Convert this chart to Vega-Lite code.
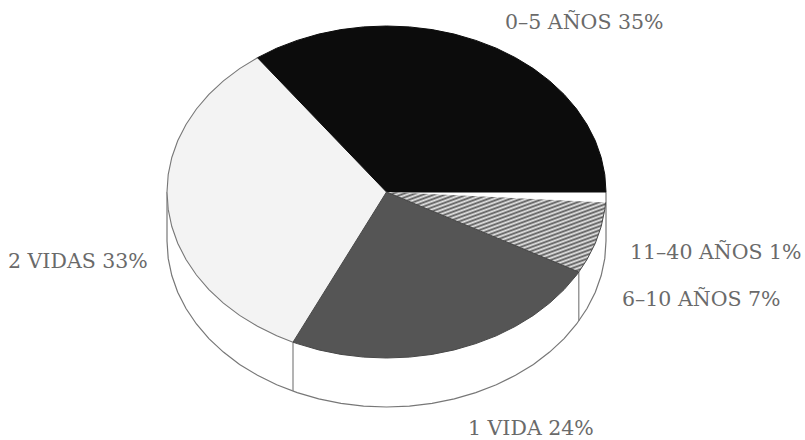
{"$schema":"https://vega.github.io/schema/vega-lite/v6.json","width":805,"height":440,"padding":0,"autosize":"none","background":"#ffffff","config":{"view":{"stroke":null}},
"datasets":{
"wall":[{"n":0,"x":167,"y":192},{"n":1,"x":167,"y":241},{"n":2,"x":168.2,"y":258.4},{"n":3,"x":171.8,"y":275.5},{"n":4,"x":177.7,"y":292.3},{"n":5,"x":186,"y":308.5},{"n":6,"x":196.4,"y":324},{"n":7,"x":208.9,"y":338.6},{"n":8,"x":223.4,"y":352.1},{"n":9,"x":239.6,"y":364.4},{"n":10,"x":257.5,"y":375.3},{"n":11,"x":276.7,"y":384.8},{"n":12,"x":297.2,"y":392.6},{"n":13,"x":318.7,"y":398.9},{"n":14,"x":340.9,"y":403.4},{"n":15,"x":363.6,"y":406.1},{"n":16,"x":386.5,"y":407},{"n":17,"x":409.4,"y":406.1},{"n":18,"x":432.1,"y":403.4},{"n":19,"x":454.3,"y":398.9},{"n":20,"x":475.8,"y":392.6},{"n":21,"x":496.3,"y":384.8},{"n":22,"x":515.5,"y":375.3},{"n":23,"x":533.4,"y":364.4},{"n":24,"x":549.6,"y":352.1},{"n":25,"x":564.1,"y":338.6},{"n":26,"x":576.6,"y":324},{"n":27,"x":587,"y":308.5},{"n":28,"x":595.3,"y":292.3},{"n":29,"x":601.2,"y":275.5},{"n":30,"x":604.8,"y":258.4},{"n":31,"x":606,"y":241},{"n":32,"x":606,"y":192}],
"edges":[{"x":293,"y":342.2,"y2":391},{"x":578.8,"y":272,"y2":321}],
"black":[{"n":0,"x":386.5,"y":192},{"n":1,"x":606,"y":192},{"n":2,"x":604.8,"y":174.6},{"n":3,"x":601.2,"y":157.5},{"n":4,"x":595.3,"y":140.7},{"n":5,"x":587,"y":124.5},{"n":6,"x":576.6,"y":109},{"n":7,"x":564.1,"y":94.4},{"n":8,"x":549.6,"y":80.9},{"n":9,"x":533.4,"y":68.6},{"n":10,"x":515.5,"y":57.7},{"n":11,"x":496.3,"y":48.2},{"n":12,"x":475.8,"y":40.4},{"n":13,"x":454.3,"y":34.1},{"n":14,"x":432.1,"y":29.6},{"n":15,"x":409.4,"y":26.9},{"n":16,"x":386.5,"y":26},{"n":17,"x":363.6,"y":26.9},{"n":18,"x":340.9,"y":29.6},{"n":19,"x":318.7,"y":34.1},{"n":20,"x":297.2,"y":40.4},{"n":21,"x":276.7,"y":48.2},{"n":22,"x":257.5,"y":57.7},{"n":23,"x":386.5,"y":192}],
"light":[{"n":0,"x":386.5,"y":192},{"n":1,"x":257.5,"y":57.7},{"n":2,"x":239.6,"y":68.6},{"n":3,"x":223.4,"y":80.9},{"n":4,"x":208.9,"y":94.4},{"n":5,"x":196.4,"y":109},{"n":6,"x":186,"y":124.5},{"n":7,"x":177.7,"y":140.7},{"n":8,"x":171.8,"y":157.5},{"n":9,"x":168.2,"y":174.6},{"n":10,"x":167,"y":192},{"n":11,"x":168.2,"y":209.4},{"n":12,"x":171.8,"y":226.5},{"n":13,"x":177.7,"y":243.3},{"n":14,"x":186,"y":259.5},{"n":15,"x":196.4,"y":275},{"n":16,"x":208.9,"y":289.6},{"n":17,"x":223.4,"y":303.1},{"n":18,"x":239.6,"y":315.4},{"n":19,"x":257.5,"y":326.3},{"n":20,"x":276.7,"y":335.8},{"n":21,"x":293,"y":342.2},{"n":22,"x":386.5,"y":192}],
"dark":[{"n":0,"x":386.5,"y":192},{"n":1,"x":293,"y":342.2},{"n":2,"x":297.2,"y":343.6},{"n":3,"x":318.7,"y":349.9},{"n":4,"x":340.9,"y":354.4},{"n":5,"x":363.6,"y":357.1},{"n":6,"x":386.5,"y":358},{"n":7,"x":409.4,"y":357.1},{"n":8,"x":432.1,"y":354.4},{"n":9,"x":454.3,"y":349.9},{"n":10,"x":475.8,"y":343.6},{"n":11,"x":496.3,"y":335.8},{"n":12,"x":515.5,"y":326.3},{"n":13,"x":533.4,"y":315.4},{"n":14,"x":549.6,"y":303.1},{"n":15,"x":564.1,"y":289.6},{"n":16,"x":576.6,"y":275},{"n":17,"x":578.8,"y":272},{"n":18,"x":386.5,"y":192}],
"hatch":[{"n":0,"x":386.5,"y":192},{"n":1,"x":578.8,"y":272},{"n":2,"x":587,"y":259.5},{"n":3,"x":595.3,"y":243.3},{"n":4,"x":601.2,"y":226.5},{"n":5,"x":604.8,"y":209.4},{"n":6,"x":605.6,"y":202.4},{"n":7,"x":386.5,"y":192}],
"labels":[{"label":"0–5 AÑOS 35%","x":505,"y":29},{"label":"11–40 AÑOS 1%","x":630,"y":259},{"label":"6–10 AÑOS 7%","x":622,"y":306},{"label":"1 VIDA 24%","x":468,"y":435},{"label":"2 VIDAS 33%","x":8,"y":268}]},
"encoding":{"x":{"field":"x","type":"quantitative","scale":{"domain":[0,805]},"axis":null},"y":{"field":"y","type":"quantitative","scale":{"domain":[440,0]},"axis":null}},
"layer":[
{"data":{"name":"wall"},"mark":{"type":"line","stroke":"#777777","strokeWidth":1.2},"encoding":{"order":{"field":"n"}}},
{"data":{"name":"edges"},"mark":{"type":"rule","stroke":"#808080","strokeWidth":1.2},"encoding":{"y2":{"field":"y2"}}},
{"data":{"name":"light"},"mark":{"type":"line","fill":"#f3f3f3","stroke":"#f3f3f3","strokeWidth":0.5},"encoding":{"order":{"field":"n"}}},
{"data":{"name":"light"},"transform":[{"filter":"datum.n >= 1 && datum.n <= 21"}],"mark":{"type":"line","stroke":"#777777","strokeWidth":1.1},"encoding":{"order":{"field":"n"}}},
{"data":{"name":"black"},"mark":{"type":"line","fill":"#0c0c0c","stroke":"#0c0c0c","strokeWidth":1},"encoding":{"order":{"field":"n"}}},
{"data":{"name":"dark"},"mark":{"type":"line","fill":"#555555","stroke":"#484848","strokeWidth":1},"encoding":{"order":{"field":"n"}}},
{"data":{"name":"hatch"},"mark":{"type":"line","stroke":"#484848","strokeWidth":1,"fill":{"gradient":"linear","x1":0,"y1":0,"x2":1,"y2":1,"stops":[{"offset":0,"color":"#5a5a5a"},{"offset":0.0125,"color":"#e8e8e8"},{"offset":0.025,"color":"#5a5a5a"},{"offset":0.0375,"color":"#e8e8e8"},{"offset":0.05,"color":"#5a5a5a"},{"offset":0.0625,"color":"#e8e8e8"},{"offset":0.075,"color":"#5a5a5a"},{"offset":0.0875,"color":"#e8e8e8"},{"offset":0.1,"color":"#5a5a5a"},{"offset":0.1125,"color":"#e8e8e8"},{"offset":0.125,"color":"#5a5a5a"},{"offset":0.1375,"color":"#e8e8e8"},{"offset":0.15,"color":"#5a5a5a"},{"offset":0.1625,"color":"#e8e8e8"},{"offset":0.175,"color":"#5a5a5a"},{"offset":0.1875,"color":"#e8e8e8"},{"offset":0.2,"color":"#5a5a5a"},{"offset":0.2125,"color":"#e8e8e8"},{"offset":0.225,"color":"#5a5a5a"},{"offset":0.2375,"color":"#e8e8e8"},{"offset":0.25,"color":"#5a5a5a"},{"offset":0.2625,"color":"#e8e8e8"},{"offset":0.275,"color":"#5a5a5a"},{"offset":0.2875,"color":"#e8e8e8"},{"offset":0.3,"color":"#5a5a5a"},{"offset":0.3125,"color":"#e8e8e8"},{"offset":0.325,"color":"#5a5a5a"},{"offset":0.3375,"color":"#e8e8e8"},{"offset":0.35,"color":"#5a5a5a"},{"offset":0.3625,"color":"#e8e8e8"},{"offset":0.375,"color":"#5a5a5a"},{"offset":0.3875,"color":"#e8e8e8"},{"offset":0.4,"color":"#5a5a5a"},{"offset":0.4125,"color":"#e8e8e8"},{"offset":0.425,"color":"#5a5a5a"},{"offset":0.4375,"color":"#e8e8e8"},{"offset":0.45,"color":"#5a5a5a"},{"offset":0.4625,"color":"#e8e8e8"},{"offset":0.475,"color":"#5a5a5a"},{"offset":0.4875,"color":"#e8e8e8"},{"offset":0.5,"color":"#5a5a5a"},{"offset":0.5125,"color":"#e8e8e8"},{"offset":0.525,"color":"#5a5a5a"},{"offset":0.5375,"color":"#e8e8e8"},{"offset":0.55,"color":"#5a5a5a"},{"offset":0.5625,"color":"#e8e8e8"},{"offset":0.575,"color":"#5a5a5a"},{"offset":0.5875,"color":"#e8e8e8"},{"offset":0.6,"color":"#5a5a5a"},{"offset":0.6125,"color":"#e8e8e8"},{"offset":0.625,"color":"#5a5a5a"},{"offset":0.6375,"color":"#e8e8e8"},{"offset":0.65,"color":"#5a5a5a"},{"offset":0.6625,"color":"#e8e8e8"},{"offset":0.675,"color":"#5a5a5a"},{"offset":0.6875,"color":"#e8e8e8"},{"offset":0.7,"color":"#5a5a5a"},{"offset":0.7125,"color":"#e8e8e8"},{"offset":0.725,"color":"#5a5a5a"},{"offset":0.7375,"color":"#e8e8e8"},{"offset":0.75,"color":"#5a5a5a"},{"offset":0.7625,"color":"#e8e8e8"},{"offset":0.775,"color":"#5a5a5a"},{"offset":0.7875,"color":"#e8e8e8"},{"offset":0.8,"color":"#5a5a5a"},{"offset":0.8125,"color":"#e8e8e8"},{"offset":0.825,"color":"#5a5a5a"},{"offset":0.8375,"color":"#e8e8e8"},{"offset":0.85,"color":"#5a5a5a"},{"offset":0.8625,"color":"#e8e8e8"},{"offset":0.875,"color":"#5a5a5a"},{"offset":0.8875,"color":"#e8e8e8"},{"offset":0.9,"color":"#5a5a5a"},{"offset":0.9125,"color":"#e8e8e8"},{"offset":0.925,"color":"#5a5a5a"},{"offset":0.9375,"color":"#e8e8e8"},{"offset":0.95,"color":"#5a5a5a"},{"offset":0.9625,"color":"#e8e8e8"},{"offset":0.975,"color":"#5a5a5a"},{"offset":0.9875,"color":"#e8e8e8"},{"offset":1,"color":"#5a5a5a"}]},"encoding":{"order":{"field":"n"}}}},
{"data":{"name":"labels"},"mark":{"type":"text","font":"DejaVu Serif","fontSize":20.5,"align":"left","baseline":"alphabetic","fill":"#6a6a6a"},"encoding":{"text":{"field":"label"}}}
]}
